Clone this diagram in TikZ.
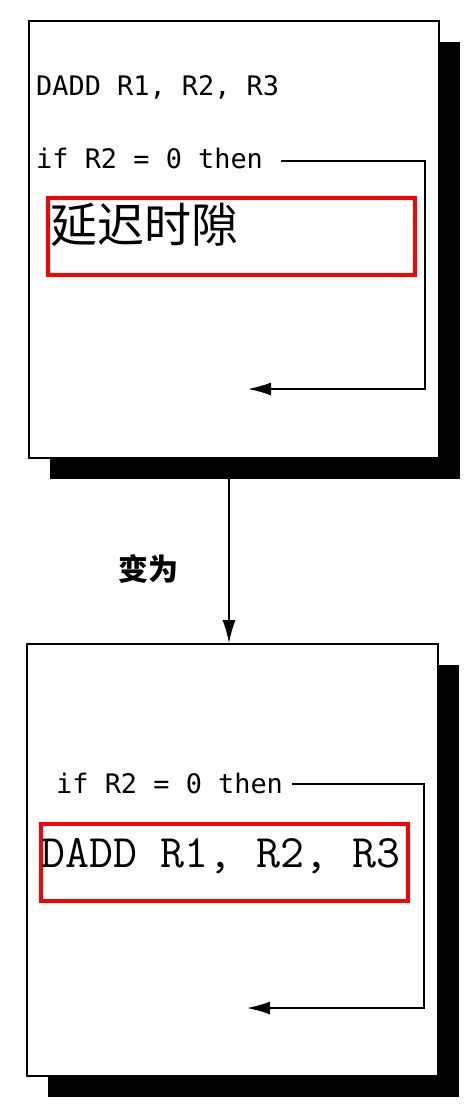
\documentclass[tikz,border=0pt]{standalone}
\usepackage{fontspec}
\usepackage{tikz}
\usetikzlibrary{arrows.meta, shadows}
\newfontfamily\cjk{Noto Sans CJK SC}
\newfontfamily\codefont{DejaVu Sans Mono}
\definecolor{markred}{RGB}{255,0,0}

\begin{document}
\begin{tikzpicture}[x=1pt, y=-1pt,
  >={Latex[length=23pt, width=13pt]},
  panel/.style={draw, line width=1.6pt, fill=white, inner sep=0pt,
    drop shadow={shadow xshift=21pt, shadow yshift=-21pt, fill=black, opacity=1}},
  hilite/.style={draw=markred, line width=4pt, minimum width=367pt, minimum height=77pt, inner sep=0pt},
  code/.style={font=\codefont\fontsize{26.9}{30}\selectfont, anchor=base west, inner sep=0pt},
  jump/.style={->, line width=1.5pt}
]
\useasboundingbox (0,0) rectangle (472,1106);
\node[panel, minimum width=410pt, minimum height=437pt] (box1) at (234,239.5) {};
\node[panel, minimum width=411pt, minimum height=432pt] (box2) at (232.5,860) {};
\node[hilite] (red1) at (231.5,236.5) {};
\node[hilite] (red2) at (224.5,862.5) {};
\node[code] (dadd1) at (36,95) {DADD R1, R2, R3};
\node[code] (cond1) at (36,168) {if R2 = 0 then};
\node[anchor=west, inner sep=0pt, font=\cjk\fontsize{47}{50}\selectfont] (slot) at (50,225) {延迟时隙};
\coordinate (c1) at (425,389);
\coordinate (t1) at (248,389);
\draw[jump] ([xshift=18pt, yshift=7pt]cond1.base east) -| (c1) -- (t1);
\draw[jump] ([xshift=-5pt]box1.south) -- ([xshift=-5pt]box1.south |- box2.north);
\node[font=\cjk\bfseries\fontsize{30}{32}\selectfont] (becomes) at (148,569) {变为};
\node[code] (cond2) at (56,793) {if R2 = 0 then};
\node[anchor=base west, inner sep=0pt, font=\ttfamily\fontsize{46.5}{50}\selectfont] (dadd2) at (41,867)
  {DADD R1, R2, R3};
\coordinate (c2) at (424,1008);
\coordinate (t2) at (247,1008);
\draw[jump] ([xshift=9pt, yshift=9pt]cond2.base east) -| (c2) -- (t2);
\end{tikzpicture}
\end{document}
